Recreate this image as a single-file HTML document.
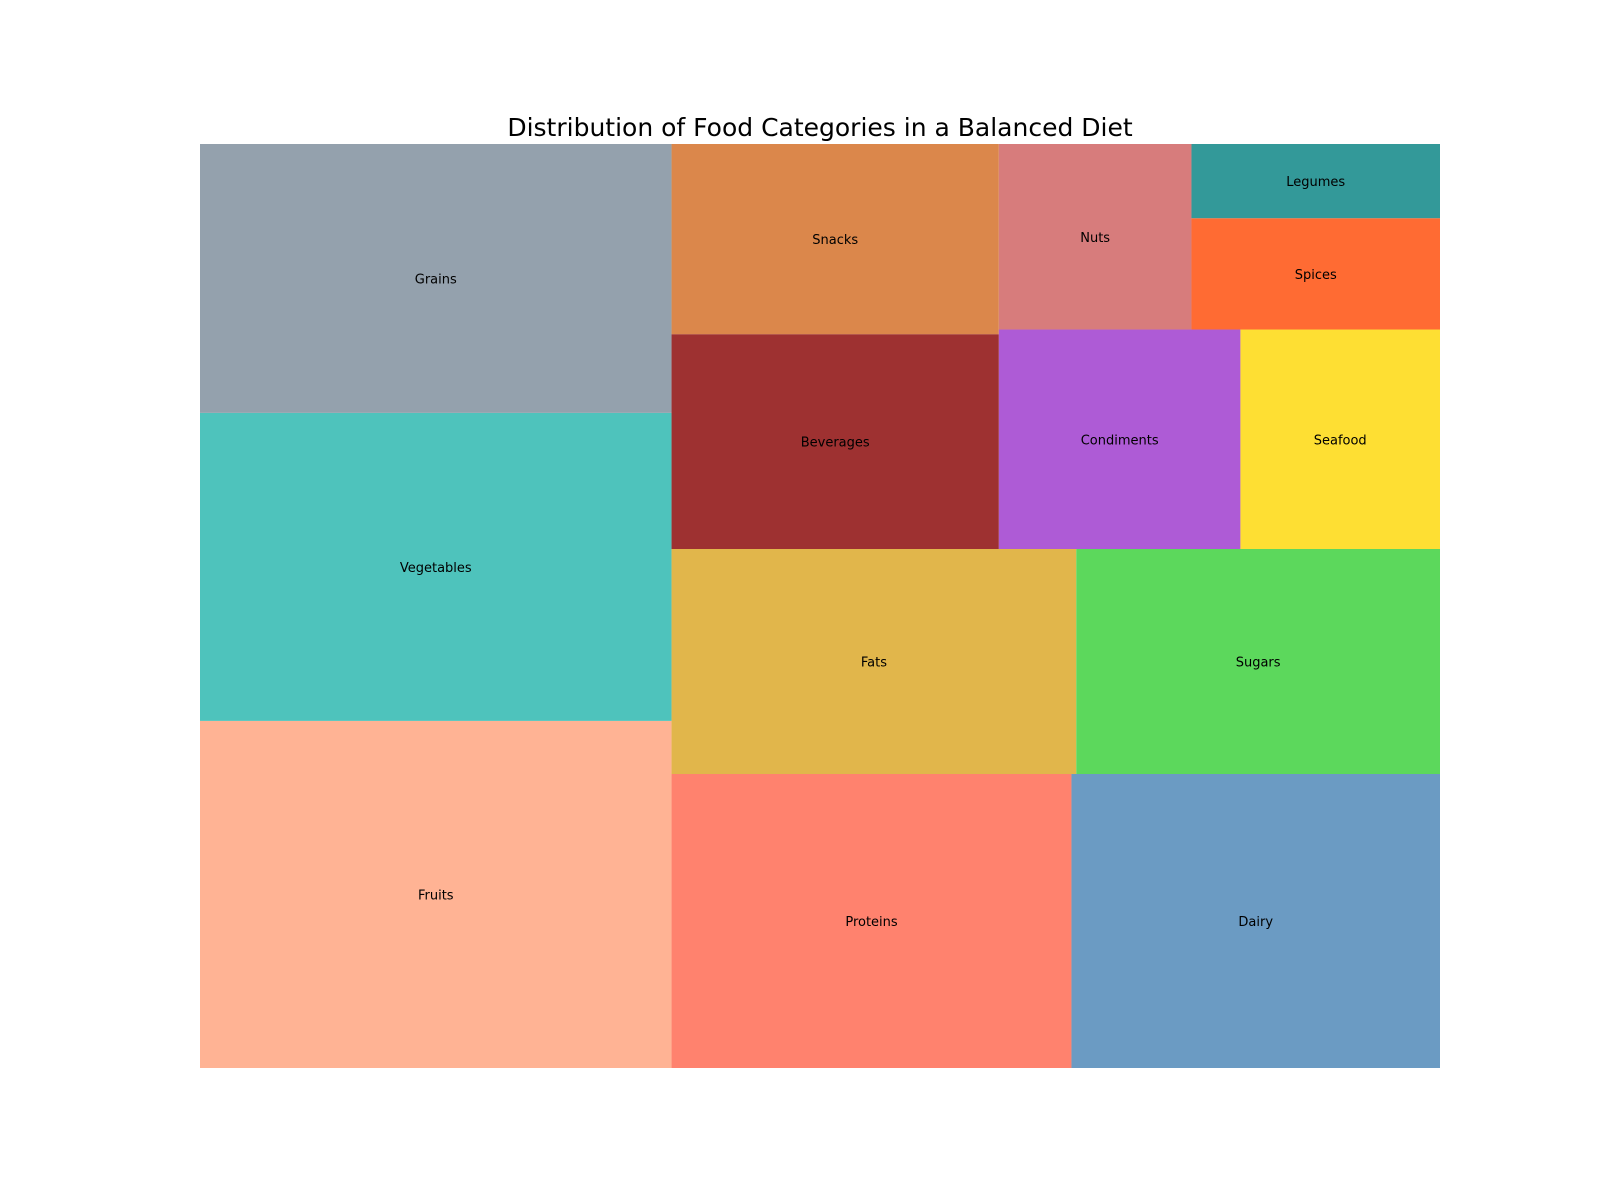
<!DOCTYPE html>
<html><head><meta charset="utf-8"><style>
body{margin:0;background:#fff;}
svg{display:block;font-family:"DejaVu Sans","Liberation Sans",sans-serif;}
</style></head><body>
<svg id="chart" width="1600" height="1200" viewBox="0 0 1600 1200">
<rect width="1600" height="1200" fill="#fff"/>
<text x="820" y="136" text-anchor="middle" font-size="25" fill="#000">Distribution of Food Categories in a Balanced Diet</text>
<g id="cells"></g>
</svg>
<script>
const categories = ["Fruits","Vegetables","Grains","Proteins","Dairy","Fats","Sugars","Beverages","Snacks","Condiments","Seafood","Nuts","Spices","Legumes"];
const values = [14.2,12.6,11.0,10.2,9.4,7.9,7.1,6.1,5.4,4.6,3.8,3.1,2.4,1.6];
const colors = ["#ffb394","#4ec3bc","#94a1ad","#ff826e","#6b9bc3","#e1b64b","#5cd85c","#9e3131","#db874b","#ae5bd6","#fedf33","#d77c7c","#ff6b33","#339999"];

const PX0=200, PY0=144, PW=1240, PH=924;
function layoutrow(s,x,y,dx,dy){const w=s.reduce((a,b)=>a+b,0)/dy;const r=[];for(const v of s){r.push({x:x,y:y,dx:w,dy:v/w});y+=v/w;}return r;}
function layoutcol(s,x,y,dx,dy){const h=s.reduce((a,b)=>a+b,0)/dx;const r=[];for(const v of s){r.push({x:x,y:y,dx:v/h,dy:h});x+=v/h;}return r;}
function layout(s,x,y,dx,dy){return dx>=dy?layoutrow(s,x,y,dx,dy):layoutcol(s,x,y,dx,dy);}
function leftover(s,x,y,dx,dy){const c=s.reduce((a,b)=>a+b,0);if(dx>=dy){const w=c/dy;return [x+w,y,dx-w,dy];}const h=c/dx;return [x,y+h,dx,dy-h];}
function worst(s,x,y,dx,dy){return Math.max(...layout(s,x,y,dx,dy).map(r=>Math.max(r.dx/r.dy,r.dy/r.dx)));}
function squarify(s,x,y,dx,dy){
  if(s.length===0)return[];
  if(s.length===1)return layout(s,x,y,dx,dy);
  let i=1;
  while(i<s.length && worst(s.slice(0,i),x,y,dx,dy)>=worst(s.slice(0,i+1),x,y,dx,dy))i++;
  const cur=s.slice(0,i),rem=s.slice(i);
  const [lx,ly,ldx,ldy]=leftover(cur,x,y,dx,dy);
  return layout(cur,x,y,dx,dy).concat(squarify(rem,lx,ly,ldx,ldy));
}
const total=values.reduce((a,b)=>a+b,0);
const norm=values.map(v=>v*100*100/total);
const rects=squarify(norm,0,0,100,100);
const sx=v=>PX0+v/100*PW;
const sy=v=>PY0+PH-v/100*PH;
const g=document.getElementById('cells');
const NS="http://www.w3.org/2000/svg";
rects.forEach((r,i)=>{
  const el=document.createElementNS(NS,'rect');
  el.setAttribute('x',sx(r.x));el.setAttribute('y',sy(r.y+r.dy));
  el.setAttribute('width',sx(r.x+r.dx)-sx(r.x));el.setAttribute('height',sy(r.y)-sy(r.y+r.dy));
  el.setAttribute('fill',colors[i]);
  
  
  g.appendChild(el);
});
rects.forEach((r,i)=>{
  const t=document.createElementNS(NS,'text');
  t.setAttribute('x',sx(r.x+r.dx/2));t.setAttribute('y',sy(r.y+r.dy/2)+5);
  t.setAttribute('text-anchor','middle');t.setAttribute('font-size','13');t.setAttribute('fill','#000');
  t.textContent=categories[i];
  
  
  g.appendChild(t);
});
</script>
</body></html>
